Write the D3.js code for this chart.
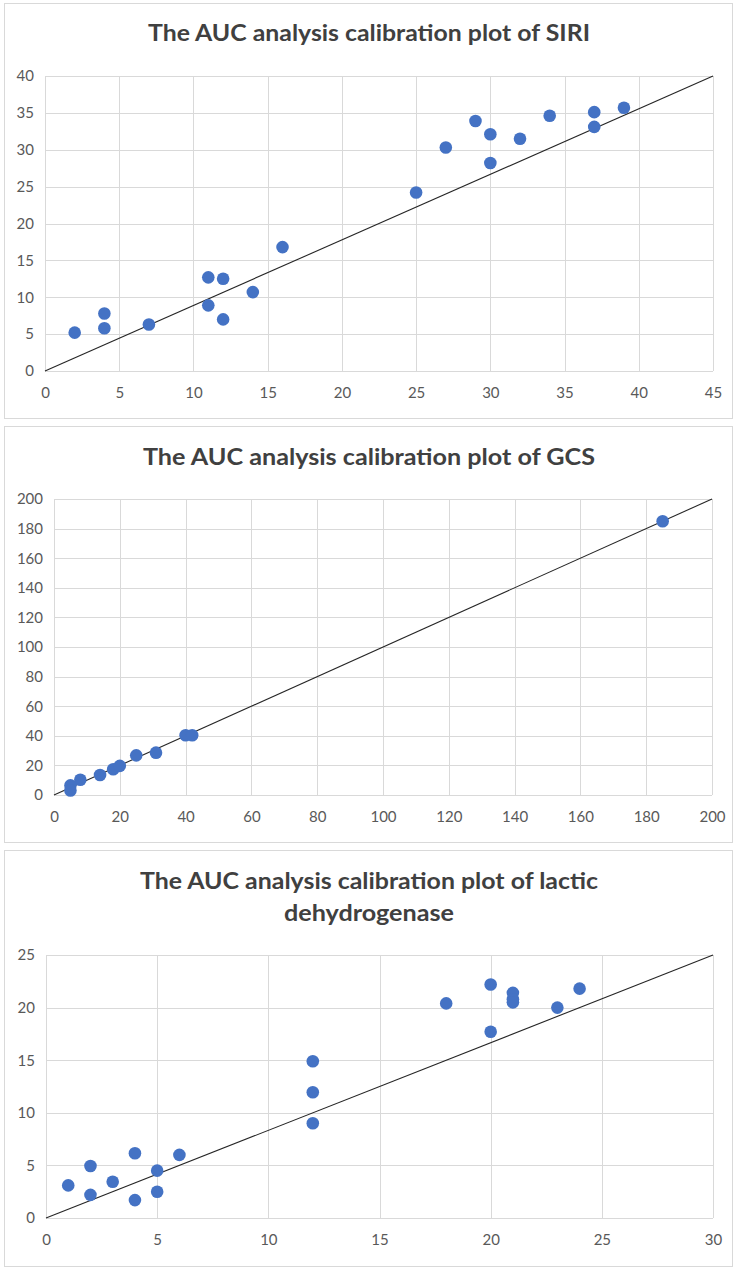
<!DOCTYPE html>
<html>
<head>
<meta charset="utf-8">
<script src="https://cdn.jsdelivr.net/npm/d3@7"></script>
<style>
  body { margin: 0; background: #fff; }
  svg { display: block; }
</style>
</head>
<body>
<div id="charts"></div>
<script>
// Chart data
var siriX = [2, 4, 4, 7, 11, 11, 12, 12, 14, 16, 25, 27, 29, 30, 30, 32, 34, 37, 37, 39];
var siriY = [5.2, 7.8, 5.8, 6.3, 12.7, 8.9, 12.5, 7.0, 10.7, 16.8, 24.2, 30.3, 33.9, 32.1, 28.2, 31.5, 34.6, 35.1, 33.1, 35.7];
var siriXTicks = [0, 5, 10, 15, 20, 25, 30, 35, 40, 45];
var siriYTicks = [0, 5, 10, 15, 20, 25, 30, 35, 40];
var siriLineX = [0, 45];
var siriLineY = [0, 40];

var gcsX = [5, 5, 8, 14, 18, 20, 25, 31, 40, 42, 185];
var gcsY = [6.5, 3, 10.3, 13.5, 17.4, 19.7, 26.8, 28.6, 40.4, 40.4, 185];
var gcsXTicks = [0, 20, 40, 60, 80, 100, 120, 140, 160, 180, 200];
var gcsYTicks = [0, 20, 40, 60, 80, 100, 120, 140, 160, 180, 200];
var gcsLineX = [0, 200];
var gcsLineY = [0, 200];

var ldhX = [1, 2, 2, 3, 4, 4, 5, 5, 6, 12, 12, 12, 18, 20, 20, 21, 21, 21, 23, 24];
var ldhY = [3.1, 4.95, 2.2, 3.45, 6.15, 1.7, 4.5, 2.5, 6.0, 14.9, 11.95, 9.0, 20.4, 22.2, 17.7, 21.4, 20.8, 20.5, 20.0, 21.8];
var ldhXTicks = [0, 5, 10, 15, 20, 25, 30];
var ldhYTicks = [0, 5, 10, 15, 20, 25];
var ldhLineX = [0, 30];
var ldhLineY = [0, 25];

var svgWidth = 738;
var svgHeight = 1269;

var svg = d3.select("#charts")
  .append("svg")
  .attr("width", svgWidth)
  .attr("height", svgHeight);

// one entry per panel: layout + which arrays to use
var panels = [
  {
    title: ["The AUC analysis calibration plot of SIRI"],
    titleY: 41, titleWidth: [442],
    frame: { x: 4, y: 3, w: 728, h: 415 },
    plot: { left: 45, right: 713, top: 76, bottom: 371 },
    xs: siriX, ys: siriY, xTicks: siriXTicks, yTicks: siriYTicks,
    lineX: siriLineX, lineY: siriLineY
  },
  {
    title: ["The AUC analysis calibration plot of GCS"],
    titleY: 465, titleWidth: [452],
    frame: { x: 4, y: 426, w: 728, h: 416 },
    plot: { left: 54, right: 712, top: 499, bottom: 795 },
    xs: gcsX, ys: gcsY, xTicks: gcsXTicks, yTicks: gcsYTicks,
    lineX: gcsLineX, lineY: gcsLineY
  },
  {
    title: ["The AUC analysis calibration plot of lactic", "dehydrogenase"],
    titleY: 889, titleWidth: [458, 170],
    frame: { x: 4, y: 850, w: 728, h: 416 },
    plot: { left: 46, right: 713, top: 955, bottom: 1218 },
    xs: ldhX, ys: ldhY, xTicks: ldhXTicks, yTicks: ldhYTicks,
    lineX: ldhLineX, lineY: ldhLineY
  }
];

panels.forEach(function(p) {
  var g = svg.append("g");

  // outer chart border
  g.append("rect")
    .attr("x", p.frame.x + 0.5)
    .attr("y", p.frame.y + 0.5)
    .attr("width", p.frame.w)
    .attr("height", p.frame.h)
    .attr("fill", "#fff")
    .attr("stroke", "#d9d9d9");

  // title
  p.title.forEach(function(line, i) {
    var t = g.append("text")
      .attr("x", 369)
      .attr("y", p.titleY + i * 32)
      .attr("text-anchor", "middle")
      .style("font-family", "Lato, 'Open Sans', sans-serif")
      .style("font-weight", "bold")
      .style("font-size", "22px")
      .style("fill", "#404040")
      .text(line);
    var w = t.node().getComputedTextLength();
    if (Math.abs(w - p.titleWidth[i]) > 2) {
      t.attr("textLength", p.titleWidth[i]).attr("lengthAdjust", "spacingAndGlyphs");
    }
  });

  var xScale = d3.scaleLinear()
    .domain(d3.extent(p.xTicks))
    .range([p.plot.left, p.plot.right]);

  var yScale = d3.scaleLinear()
    .domain(d3.extent(p.yTicks))
    .range([p.plot.bottom, p.plot.top]);

  // gridlines
  g.append("g")
    .selectAll("line")
    .data(p.xTicks)
    .enter()
    .append("line")
    .attr("x1", d => Math.round(xScale(d)) + 0.5)
    .attr("x2", d => Math.round(xScale(d)) + 0.5)
    .attr("y1", p.plot.top)
    .attr("y2", p.plot.bottom)
    .attr("stroke", "#d9d9d9");

  g.append("g")
    .selectAll("line")
    .data(p.yTicks)
    .enter()
    .append("line")
    .attr("x1", p.plot.left)
    .attr("x2", p.plot.right)
    .attr("y1", d => Math.round(yScale(d)) + 0.5)
    .attr("y2", d => Math.round(yScale(d)) + 0.5)
    .attr("stroke", "#d9d9d9");

  // axes (labels only)
  var bottomAxis = d3.axisBottom(xScale)
    .tickValues(p.xTicks)
    .tickSize(0)
    .tickPadding(16)
    .tickFormat(d3.format("d"));
  var leftAxis = d3.axisLeft(yScale)
    .tickValues(p.yTicks)
    .tickSize(0)
    .tickPadding(11)
    .tickFormat(d3.format("d"));

  var xg = g.append("g")
    .attr("transform", `translate(0, ${p.plot.bottom})`)
    .call(bottomAxis);
  var yg = g.append("g")
    .attr("transform", `translate(${p.plot.left}, 0)`)
    .call(leftAxis);

  [xg, yg].forEach(function(a) {
    a.select(".domain").remove();
    a.selectAll("text")
      .style("font-family", "Lato, 'Open Sans', sans-serif")
      .style("font-size", "15px")
      .style("fill", "#595959");
  });

  // diagonal reference line
  var line = d3.line()
    .x(d => xScale(d[0]))
    .y(d => yScale(d[1]));
  g.append("path")
    .datum(p.lineX.map((x, i) => [x, p.lineY[i]]))
    .attr("d", line)
    .attr("fill", "none")
    .attr("stroke", "#262626")
    .attr("stroke-width", 1.1);

  // points
  g.append("g")
    .selectAll("circle")
    .data(p.xs)
    .enter()
    .append("circle")
    .attr("cx", (d, i) => xScale(p.xs[i]))
    .attr("cy", (d, i) => yScale(p.ys[i]))
    .attr("r", 6.3)
    .style("fill", "#4472c4");
});
</script>
</body>
</html>
